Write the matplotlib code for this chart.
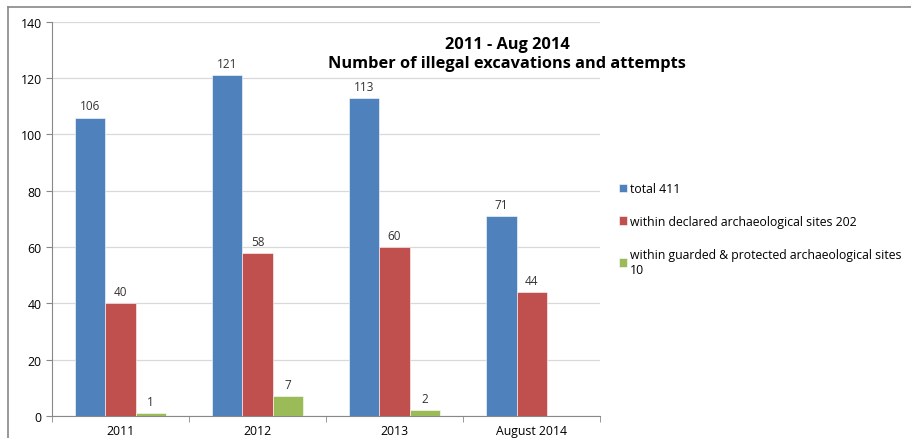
"""
illegal excavations bar chart, 2011 - Aug 2014
"""

import numpy as np
import matplotlib.pyplot as plt
from matplotlib.lines import Line2D

years = ["2011", "2012", "2013", "August 2014"]
total = [106, 121, 113, 71]
declared = [40, 58, 60, 44]
guarded = [1, 7, 2, None]
labels = ["total 411",
          "within declared archaeological sites 202",
          "within guarded & protected archaeological sites\n10"]
colors = ["#4F81BD", "#C0504D", "#9BBB59"]


def main():
    plt.rcParams['font.family'] = ['Open Sans', 'DejaVu Sans']
    fig = plt.figure(figsize=(9.12, 4.39), dpi=100)
    ax = fig.add_axes([0.057, 0.05, 0.601, 0.898])

    # grey frame of the chart box
    fig.add_artist(Line2D([8/912, 1], [1-8/439, 1-8/439], color="#888888",
                          lw=1.2, transform=fig.transFigure))
    fig.add_artist(Line2D([8/912, 8/912], [0, 1-8/439], color="#888888",
                          lw=1.2, transform=fig.transFigure))

    x = np.arange(len(years))
    w = 0.22
    series = [total, declared, guarded]
    for k, vals in enumerate(series):
        xs = [x[i] + (k-1)*w for i in range(len(vals)) if vals[i] is not None]
        vs = [v for v in vals if v is not None]
        bars = ax.bar(xs, vs, width=w, color=colors[k], label=labels[k],
                      edgecolor="white", linewidth=0.4, zorder=3)
        for b, v in zip(bars, vs):
            ax.text(b.get_x() + b.get_width()/2, v + 1.8, str(v),
                    ha="center", va="bottom", fontsize=8.5, color="#333333")

    ax.set_xlim(-0.5, len(years) - 0.5)
    ax.set_ylim(0, 140)
    ax.set_yticks(range(0, 141, 20))
    ax.set_xticks(x)
    ax.set_xticklabels(years)
    ax.set_xticks(np.arange(-0.5, len(years)), minor=True)
    ax.tick_params(axis="x", which="major", length=0, labelsize=8.8, pad=6)
    ax.tick_params(axis="x", which="minor", length=4, color="#888888")
    ax.tick_params(axis="y", length=4, color="#888888", labelsize=8.8)
    ax.grid(axis="y", color="#d9d9d9", lw=0.9, zorder=0)
    for s in ["top", "right"]:
        ax.spines[s].set_visible(False)
    for s in ["left", "bottom"]:
        ax.spines[s].set_color("#888888")

    ax.text(0.83, 0.965, "2011 - Aug 2014\nNumber of illegal excavations and attempts",
            transform=ax.transAxes, ha="center", va="top", fontsize=11.8,
            fontweight="bold", linespacing=1.25)

    ax.legend(loc="upper left", bbox_to_anchor=(1.025, 0.605), frameon=False,
              fontsize=8.8, handlelength=0.7, handleheight=0.7, handletextpad=0.25,
              labelspacing=1.6, borderaxespad=0)

    plt.savefig("out.png")


main()
